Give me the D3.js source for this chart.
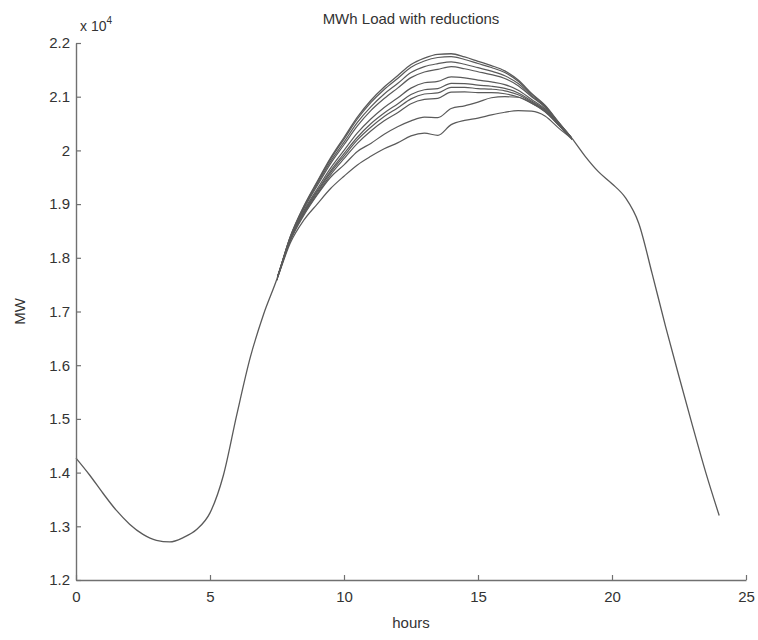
<!DOCTYPE html>
<html>
<head>
<meta charset="utf-8">
<script src="https://cdnjs.cloudflare.com/ajax/libs/d3/7.8.5/d3.min.js"></script>
<style>
body{margin:0;background:#fff;}
</style>
</head>
<body>
<div class="chart"></div>
<script>
// hourly load (half hour steps), top curve = no reduction
var hours = [0,0.5,1,1.5,2,2.5,3,3.5,4,4.5,5,5.5,6,6.5,7,7.5,8,8.5,9,9.5,10,10.5,11,11.5,12,
	12.5,13,13.5,14,14.5,15,15.5,16,16.5,17,17.5,18,18.5,19,19.5,20,20.5,21,21.5,22,22.5,23,23.5,24];
var baseLoad = [14270,13960,13620,13300,13040,12850,12740,12710,12790,12940,13250,13950,15080,16140,
	16950,17610,18400,18960,19420,19860,20240,20620,20930,21180,21390,21600,21720,21790,21800,21740,
	21660,21580,21480,21310,21060,20840,20530,20230,19890,19600,19380,19120,18640,17700,16720,15790,
	14880,14000,13200];

// hours where the reduction cases differ from the base load
var windowHours = [7,7.5,8,8.5,9,9.5,10,10.5,11,11.5,12,12.5,13,13.5,14,14.5,15,15.5,16,16.5,17,17.5,18,18.5,19];
var reduced1 = [16950,17619,18395,18950,19403,19837,20210,20585,20890,21135,21340,21547,21665,21730,21748,21693,21618,21543,21450,21287,21047,20832,20526,20229,19890];
var reduced2 = [16950,17618,18386,18930,19372,19795,20155,20520,20810,21050,21245,21450,21560,21615,21650,21605,21540,21475,21390,21245,21020,20815,20518,20228,19890];
var reduced3 = [16950,17617,18378,18912,19342,19755,20105,20455,20740,20965,21160,21355,21460,21510,21560,21520,21465,21410,21340,21205,21000,20803,20510,20227,19890];
var reduced4 = [16950,17614,18360,18875,19280,19670,20000,20325,20585,20800,20975,21160,21260,21285,21370,21350,21310,21275,21225,21120,20950,20775,20495,20225,19890];
var reduced5 = [16950,17612,18350,18850,19245,19620,19940,20245,20495,20695,20865,21040,21130,21150,21250,21245,21215,21195,21155,21070,20920,20755,20485,20222,19890];
var reduced6 = [16950,17610,18342,18835,19220,19585,19895,20195,20430,20630,20790,20960,21050,21070,21175,21175,21150,21140,21110,21035,20900,20745,20480,20220,19890];
var reduced7 = [16950,17610,18335,18815,19190,19545,19845,20130,20360,20550,20700,20870,20950,20970,21085,21090,21075,21075,21055,20995,20880,20730,20470,20220,19890];
var reduced8 = [16950,17610,18320,18790,19170,19500,19730,19980,20130,20300,20440,20550,20620,20610,20780,20830,20900,20980,21000,20990,20880,20720,20480,20220,19890];
var reduced9 = [16950,17600,18280,18700,19000,19290,19520,19730,19890,20030,20140,20270,20320,20280,20480,20560,20600,20660,20710,20740,20730,20640,20420,20210,19890];
var reducedLoads = [reduced1,reduced2,reduced3,reduced4,reduced5,reduced6,reduced7,reduced8,reduced9];

var xTicks = [0,5,10,15,20,25];
var yTicks = [12000,13000,14000,15000,16000,17000,18000,19000,20000,21000,22000];
var yTickLabels = ['1.2','1.3','1.4','1.5','1.6','1.7','1.8','1.9','2','2.1','2.2'];

var width = 758, height = 640;
var plotLeft = 76, plotRight = 746, plotTop = 43, plotBottom = 580;
var fontFamily = 'Liberation Sans, Arial, sans-serif';
var textColor = '#333';
var axisColor = '#707070';
var lineColor = '#5a5a5a';

var svg = d3.select('.chart').append('svg')
	.attr('width', width)
	.attr('height', height);

var x = d3.scaleLinear().domain([0,25]).range([plotLeft,plotRight]);
var y = d3.scaleLinear().domain([12000,22000]).range([plotBottom,plotTop]);

var line = d3.line()
	.x(function(d){ return x(d[0]); })
	.y(function(d){ return y(d[1]); })
	.curve(d3.curveMonotoneX);

// each reduction case = base load outside the window, reduced values inside it
function fullSeries(values){
	return hours.map(function(h, j){
		var k = windowHours.indexOf(h);
		return [h, k >= 0 ? values[k] : baseLoad[j]];
	});
}

// only show the reduced cases where they leave the base curve (avoid overdrawn dark line)
svg.append('defs').append('clipPath')
	.attr('id', 'reductionClip')
	.append('rect')
	.attr('x', x(windowHours[1]))
	.attr('y', 0)
	.attr('width', x(windowHours[windowHours.length - 2]) - x(windowHours[1]))
	.attr('height', height);

var fan = svg.append('g').attr('clip-path', 'url(#reductionClip)');
for(var i = reducedLoads.length - 1; i >= 0; i--){
	fan.append('path')
		.attr('d', line(fullSeries(reducedLoads[i])))
		.attr('fill', 'none')
		.attr('stroke', lineColor)
		.attr('stroke-width', 1.2);
}
// base load
svg.append('path')
	.attr('d', line(hours.map(function(h, j){ return [h, baseLoad[j]]; })))
	.attr('fill', 'none')
	.attr('stroke', lineColor)
	.attr('stroke-width', 1.3);

// axes, ticks pointing inwards like matlab
var xAxis = d3.axisBottom(x).tickValues(xTicks).tickSizeInner(-5).tickSizeOuter(0).tickPadding(11);
var yAxis = d3.axisLeft(y).tickValues(yTicks).tickSizeInner(-5).tickSizeOuter(0).tickPadding(6)
	.tickFormat(function(d, i){ return yTickLabels[i]; });

var gx = svg.append('g').attr('transform', 'translate(0,' + plotBottom + ')').call(xAxis);
var gy = svg.append('g').attr('transform', 'translate(' + plotLeft + ',0)').call(yAxis);
[gx, gy].forEach(function(g){
	g.select('.domain').attr('stroke', axisColor).attr('stroke-width', 1.4);
	g.selectAll('.tick line').attr('stroke', axisColor).attr('stroke-width', 1.2);
	g.selectAll('.tick text')
		.attr('fill', textColor)
		.attr('font-size', 15)
		.attr('font-family', fontFamily);
});

// exponent label
var expo = svg.append('text')
	.attr('x', plotLeft + 4)
	.attr('y', 31)
	.attr('font-size', 14)
	.attr('font-family', fontFamily)
	.attr('fill', textColor);
expo.append('tspan').text('x 10');
expo.append('tspan').attr('dy', -7).attr('font-size', 10).text('4');

svg.append('text')
	.attr('x', (plotLeft + plotRight) / 2)
	.attr('y', 24)
	.attr('text-anchor', 'middle')
	.attr('font-size', 15)
	.attr('font-family', fontFamily)
	.attr('fill', textColor)
	.text('MWh Load with reductions');

svg.append('text')
	.attr('x', (plotLeft + plotRight) / 2)
	.attr('y', 628)
	.attr('text-anchor', 'middle')
	.attr('font-size', 15)
	.attr('font-family', fontFamily)
	.attr('fill', textColor)
	.text('hours');

svg.append('text')
	.attr('transform', 'translate(25,' + ((plotTop + plotBottom) / 2) + ') rotate(-90)')
	.attr('text-anchor', 'middle')
	.attr('font-size', 15)
	.attr('font-family', fontFamily)
	.attr('fill', textColor)
	.text('MW');
</script>
</body>
</html>
